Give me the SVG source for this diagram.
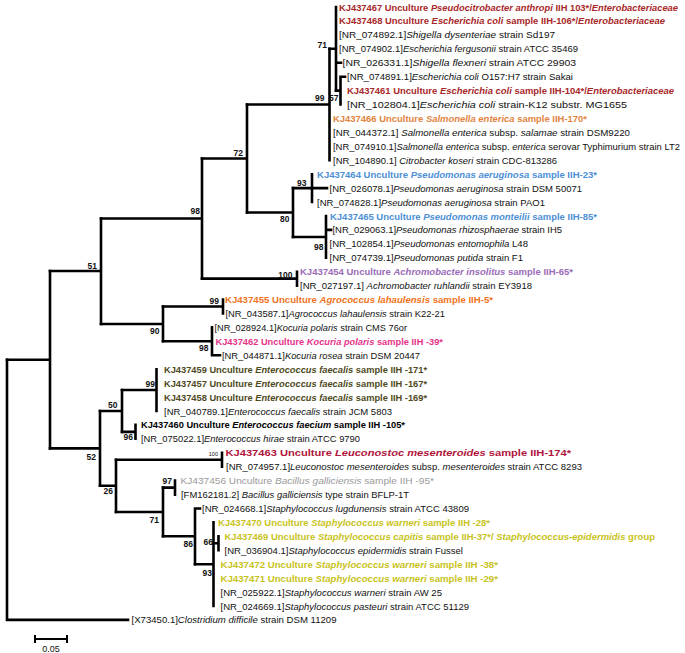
<svg xmlns="http://www.w3.org/2000/svg" width="685" height="653" viewBox="0 0 685 653">
<style>
.br{stroke:#000;stroke-width:2.6;fill:none;stroke-linecap:square}
.t{font-family:"Liberation Sans",Arial,sans-serif;font-size:9.5px;fill:#111}
.s{font-size:9px}
.b{font-weight:bold}
.i{font-style:italic}
.bs{font-family:"Liberation Sans",Arial,sans-serif;font-size:8.5px;font-weight:bold;fill:#111;text-anchor:end}
.red{fill:#a8282a}.sal{fill:#e2843f}.blu{fill:#4d8fd6}.pur{fill:#9a6cb8}.org{fill:#ef7322}.pnk{fill:#e6338a}.olv{fill:#4e4a1c}.crm{fill:#b0143c}.gry{fill:#9a9a9a}.yel{fill:#c8c31c}
</style>
<rect width="685" height="653" fill="#fff"/>
<g id="connectors" class="br">
<path d="M340.5 76.7V104.5M340.5 76.7H345M336 90.6H340.5"/>
<path d="M336 7V90.6M336 62.7H341M329.5 48.8H336"/>
<path d="M329.5 48.8V160.2M247 104.5H329.5"/>
<path d="M312 174.2V202M293 188.1H327"/>
<path d="M326 216V257.7M326 229.9H331M293 237H326"/>
<path d="M293 188.1V237M247 212.5H293"/>
<path d="M247 104.5V212.5M202 158.5H247"/>
<path d="M297 271.7V285.6M202 278.6H297"/>
<path d="M202 158.5V278.6M101 218.5H202"/>
<path d="M223 299.5V313.5M163 306.5H223"/>
<path d="M212 327.4V355.3M212 355.3H220M163 341.3H212"/>
<path d="M163 306.5V341.3M101 324H163"/>
<path d="M101 218.5V324M50 271H101"/>
<path d="M156.5 369.2V411M122 390H156.5"/>
<path d="M135.5 424.9V438.8M122 431.9H135.5"/>
<path d="M122 390V431.9M100 411H122"/>
<path d="M222 452.8V466.7M116 459.7H222"/>
<path d="M175 480.6V494.6M163 487.6H175"/>
<path d="M218.5 536.3V550.3M213.5 543.3H218.5"/>
<path d="M213.5 522.4V606M195 564.2H213.5"/>
<path d="M195 508.5V564.2M195 508.5H200M163 536.3H195"/>
<path d="M163 487.6V536.3M116 512H163"/>
<path d="M116 459.7V512M100 485.8H116"/>
<path d="M100 411V485.8M50 448.4H100"/>
<path d="M50 271V448.4M7 359.7H50"/>
<path d="M7 359.7V619.9H128"/>
</g>
<g id="bootstrap">
<text class="bs" x="327" y="47.5">71</text>
<text class="bs" x="324.5" y="101">99</text>
<text class="bs" x="338.5" y="100.5">57</text>
<text class="bs" x="243" y="156">72</text>
<text class="bs" x="200" y="213.5">98</text>
<text class="bs" x="306.5" y="185.5">93</text>
<text class="bs" x="289.5" y="221.5">80</text>
<text class="bs" x="323.5" y="249.5">98</text>
<text class="bs" x="292.5" y="278">100</text>
<text class="bs" x="97" y="269">51</text>
<text class="bs" x="219" y="303.5">99</text>
<text class="bs" x="159.5" y="334">90</text>
<text class="bs" x="208.5" y="351">98</text>
<text class="bs" x="155" y="387">99</text>
<text class="bs" x="117.5" y="408">50</text>
<text class="bs" x="133" y="440">96</text>
<text class="bs" x="96" y="460">52</text>
<text class="bs" x="218" y="456" style="font-size:5.5px;font-weight:normal">100</text>
<text class="bs" x="113" y="494">26</text>
<text class="bs" x="172" y="484">97</text>
<text class="bs" x="159" y="523">71</text>
<text class="bs" x="193" y="547">86</text>
<text class="bs" x="213" y="544.5">66</text>
<text class="bs" x="212" y="576">93</text>
</g>
<g id="leaf-KJ437467"><text class="t s b red" x="339" y="10.5" textLength="339" lengthAdjust="spacingAndGlyphs">KJ437467 Unculture <tspan class="i">Pseudocitrobacter anthropi</tspan> IIH 103*/<tspan class="i">Enterobacteriaceae</tspan></text></g>
<g id="leaf-KJ437468"><text class="t s b red" x="339" y="24.4" textLength="326" lengthAdjust="spacingAndGlyphs">KJ437468 Unculture <tspan class="i">Escherichia coli</tspan> sample IIH-106*/<tspan class="i">Enterobacteriaceae</tspan></text></g>
<g id="leaf-NR_074892"><text class="t" x="339" y="38.4" textLength="216" lengthAdjust="spacingAndGlyphs">[NR_074892.1]<tspan class="i">Shigella dysenteriae</tspan> strain  Sd197</text></g>
<g id="leaf-NR_074902"><text class="t" x="339" y="52.3" textLength="239" lengthAdjust="spacingAndGlyphs">[NR_074902.1]<tspan class="i">Escherichia fergusonii</tspan> strain ATCC 35469</text></g>
<g id="leaf-NR_026331"><text class="t" x="342.5" y="66.2" textLength="233.5" lengthAdjust="spacingAndGlyphs">[NR_026331.1]<tspan class="i">Shigella flexneri</tspan> strain  ATCC 29903</text></g>
<g id="leaf-NR_074891"><text class="t" x="347" y="80.2" textLength="226" lengthAdjust="spacingAndGlyphs">[NR_074891.1]<tspan class="i">Escherichia coli</tspan>  O157:H7 strain Sakai</text></g>
<g id="leaf-KJ437461"><text class="t s b red" x="347" y="94.1" textLength="327" lengthAdjust="spacingAndGlyphs">KJ437461 Unculture <tspan class="i">Escherichia coli</tspan> sample IIH-104*/<tspan class="i">Enterobacteriaceae</tspan></text></g>
<g id="leaf-NR_102804"><text class="t" x="347" y="108" textLength="280" lengthAdjust="spacingAndGlyphs">[NR_102804.1]<tspan class="i">Escherichia coli</tspan> strain-K12 substr. MG1655</text></g>
<g id="leaf-KJ437466"><text class="t b sal" x="333" y="121.9" textLength="254" lengthAdjust="spacingAndGlyphs">KJ437466 Unculture <tspan class="i">Salmonella enterica</tspan> sample IIH-170*</text></g>
<g id="leaf-NR_044372"><text class="t" x="333" y="135.9" textLength="297" lengthAdjust="spacingAndGlyphs">[NR_044372.1]  <tspan class="i">Salmonella enterica</tspan> subsp. <tspan class="i">salamae</tspan> strain DSM9220</text></g>
<g id="leaf-NR_074910"><text class="t s" x="333" y="149.8" textLength="347" lengthAdjust="spacingAndGlyphs">[NR_074910.1]<tspan class="i">Salmonella enterica</tspan> subsp. <tspan class="i">enterica</tspan> serovar Typhimurium strain LT2</text></g>
<g id="leaf-NR_104890"><text class="t" x="333" y="163.7" textLength="224" lengthAdjust="spacingAndGlyphs">[NR_104890.1] <tspan class="i">Citrobacter koseri</tspan> strain CDC-813286</text></g>
<g id="leaf-KJ437464"><text class="t b blu" x="317" y="177.7" textLength="280" lengthAdjust="spacingAndGlyphs">KJ437464 Unculture <tspan class="i">Pseudomonas aeruginosa</tspan> sample IIH-23*</text></g>
<g id="leaf-NR_026078"><text class="t" x="329.5" y="191.6" textLength="252.5" lengthAdjust="spacingAndGlyphs">[NR_026078.1]<tspan class="i">Pseudomonas aeruginosa</tspan>  strain DSM 50071</text></g>
<g id="leaf-NR_074828"><text class="t" x="317" y="205.5" textLength="228" lengthAdjust="spacingAndGlyphs">[NR_074828.1]<tspan class="i">Pseudomonas aeruginosa</tspan> strain PAO1</text></g>
<g id="leaf-KJ437465"><text class="t b blu" x="330" y="219.5" textLength="267" lengthAdjust="spacingAndGlyphs">KJ437465 Unculture <tspan class="i">Pseudomonas monteilii</tspan> sample IIH-85*</text></g>
<g id="leaf-NR_029063"><text class="t" x="332.5" y="233.4" textLength="229.5" lengthAdjust="spacingAndGlyphs">[NR_029063.1]<tspan class="i">Pseudomonas rhizosphaerae</tspan> strain IH5</text></g>
<g id="leaf-NR_102854"><text class="t" x="329.5" y="247.3" textLength="198.5" lengthAdjust="spacingAndGlyphs">[NR_102854.1]<tspan class="i">Pseudomonas entomophila</tspan>  L48</text></g>
<g id="leaf-NR_074739"><text class="t" x="329.5" y="261.2" textLength="193.5" lengthAdjust="spacingAndGlyphs">[NR_074739.1]<tspan class="i">Pseudomonas putida</tspan>  strain F1</text></g>
<g id="leaf-KJ437454"><text class="t b pur" x="300" y="275.2" textLength="273" lengthAdjust="spacingAndGlyphs">KJ437454 Unculture <tspan class="i">Achromobacter  insolitus</tspan> sample  IIH-65*</text></g>
<g id="leaf-NR_027197"><text class="t" x="300" y="289.1" textLength="232" lengthAdjust="spacingAndGlyphs">[NR_027197.1]  <tspan class="i">Achromobacter ruhlandii</tspan> strain EY3918</text></g>
<g id="leaf-KJ437455"><text class="t b org" x="225" y="303" textLength="268" lengthAdjust="spacingAndGlyphs">KJ437455 Unculture  <tspan class="i">Agrococcus  lahaulensis</tspan> sample IIH-5*</text></g>
<g id="leaf-NR_043587"><text class="t" x="225.5" y="317" textLength="219.5" lengthAdjust="spacingAndGlyphs">[NR_043587.1]<tspan class="i">Agrococcus lahaulensis</tspan> strain K22-21</text></g>
<g id="leaf-NR_028924"><text class="t" x="214.5" y="330.9" textLength="192.5" lengthAdjust="spacingAndGlyphs">[NR_028924.1]<tspan class="i">Kocuria polaris</tspan> strain CMS 76or</text></g>
<g id="leaf-KJ437462"><text class="t b pnk" x="215.5" y="344.8" textLength="227.5" lengthAdjust="spacingAndGlyphs">KJ437462 Unculture <tspan class="i">Kocuria polaris</tspan> sample IIH -39*</text></g>
<g id="leaf-NR_044871"><text class="t" x="222" y="358.8" textLength="198" lengthAdjust="spacingAndGlyphs">[NR_044871.1]<tspan class="i">Kocuria  rosea</tspan> strain DSM 20447</text></g>
<g id="leaf-KJ437459"><text class="t b olv" x="164" y="372.7" textLength="263" lengthAdjust="spacingAndGlyphs">KJ437459 Unculture <tspan class="i">Enterococcus faecalis</tspan> sample IIH -171*</text></g>
<g id="leaf-KJ437457"><text class="t b olv" x="164" y="386.6" textLength="263" lengthAdjust="spacingAndGlyphs">KJ437457 Unculture <tspan class="i">Enterococcus faecalis</tspan> sample IIH -167*</text></g>
<g id="leaf-KJ437458"><text class="t b olv" x="164" y="400.5" textLength="263" lengthAdjust="spacingAndGlyphs">KJ437458 Unculture <tspan class="i">Enterococcus faecalis</tspan> sample IIH -169*</text></g>
<g id="leaf-NR_040789"><text class="t" x="164" y="414.5" textLength="228" lengthAdjust="spacingAndGlyphs">[NR_040789.1]<tspan class="i">Enterococcus faecalis</tspan>  strain JCM 5803</text></g>
<g id="leaf-KJ437460"><text class="t b" x="141" y="428.4" textLength="264" lengthAdjust="spacingAndGlyphs" style="fill:#000">KJ437460 Unculture <tspan class="i">Enterococcus faecium</tspan> sample  IIH -105*</text></g>
<g id="leaf-NR_075022"><text class="t" x="141" y="442.3" textLength="219" lengthAdjust="spacingAndGlyphs">[NR_075022.1]<tspan class="i">Enterococcus hirae</tspan> strain ATCC 9790</text></g>
<g id="leaf-KJ437463"><text class="t b crm" x="225.5" y="456.3" textLength="345.5" lengthAdjust="spacingAndGlyphs">KJ437463 Unculture <tspan class="i">Leuconostoc mesenteroides</tspan> sample IIH-174*</text></g>
<g id="leaf-NR_074957"><text class="t" x="226" y="470.2" textLength="356" lengthAdjust="spacingAndGlyphs">[NR_074957.1]<tspan class="i">Leuconostoc mesenteroides</tspan> subsp. <tspan class="i">mesenteroides</tspan> strain ATCC 8293</text></g>
<g id="leaf-KJ437456"><text class="t gry" x="180.5" y="484.1" textLength="253.5" lengthAdjust="spacingAndGlyphs">KJ437456 Unculture <tspan class="i">Bacillus galliciensis</tspan> sample  IIH -95*</text></g>
<g id="leaf-FM162181"><text class="t" x="181" y="498.1" textLength="228" lengthAdjust="spacingAndGlyphs">[FM162181.2] <tspan class="i">Bacillus galliciensis</tspan> type strain BFLP-1T</text></g>
<g id="leaf-NR_024668"><text class="t" x="202" y="512" textLength="267" lengthAdjust="spacingAndGlyphs">[NR_024668.1]<tspan class="i">Staphylococcus lugdunensis</tspan> strain ATCC 43809</text></g>
<g id="leaf-KJ437470"><text class="t b yel" x="218" y="525.9" textLength="272" lengthAdjust="spacingAndGlyphs">KJ437470 Unculture <tspan class="i">Staphylococcus  warneri</tspan> sample  IIH -28*</text></g>
<g id="leaf-KJ437469"><text class="t s b yel" x="224.5" y="539.8" textLength="430.5" lengthAdjust="spacingAndGlyphs">KJ437469 Unculture <tspan class="i">Staphylococcus capitis</tspan> sample IIH-37*/ <tspan class="i">Staphylococcus-epidermidis</tspan> group</text></g>
<g id="leaf-NR_036904"><text class="t" x="224.5" y="553.8" textLength="238.5" lengthAdjust="spacingAndGlyphs">[NR_036904.1]<tspan class="i">Staphylococcus epidermidis</tspan>  strain Fussel</text></g>
<g id="leaf-KJ437472"><text class="t b yel" x="220.5" y="567.7" textLength="277.5" lengthAdjust="spacingAndGlyphs">KJ437472 Unculture  <tspan class="i">Staphylococcus warneri</tspan> sample IIH -38*</text></g>
<g id="leaf-KJ437471"><text class="t b yel" x="220.5" y="581.6" textLength="277.5" lengthAdjust="spacingAndGlyphs">KJ437471 Unculture  <tspan class="i">Staphylococcus warneri</tspan> sample IIH -29*</text></g>
<g id="leaf-NR_025922"><text class="t" x="220.5" y="595.6" textLength="221.5" lengthAdjust="spacingAndGlyphs">[NR_025922.1]<tspan class="i">Staphylococcus warneri</tspan> strain AW 25</text></g>
<g id="leaf-NR_024669"><text class="t" x="220.5" y="609.5" textLength="248.5" lengthAdjust="spacingAndGlyphs">[NR_024669.1]<tspan class="i">Staphylococcus pasteuri</tspan> strain ATCC 51129</text></g>
<g id="leaf-X73450"><text class="t" x="131.5" y="623.4" textLength="205" lengthAdjust="spacingAndGlyphs">[X73450.1]<tspan class="i">Clostridium difficile</tspan>  strain DSM 11209</text></g>
<g id="scale-bar">
<path d="M35 639H67M35 635V643M67 635V643" class="br" style="stroke-width:2;stroke-linecap:butt"/>
<text class="t" x="51" y="652" text-anchor="middle" style="font-size:9px">0.05</text>
</g>
</svg>
